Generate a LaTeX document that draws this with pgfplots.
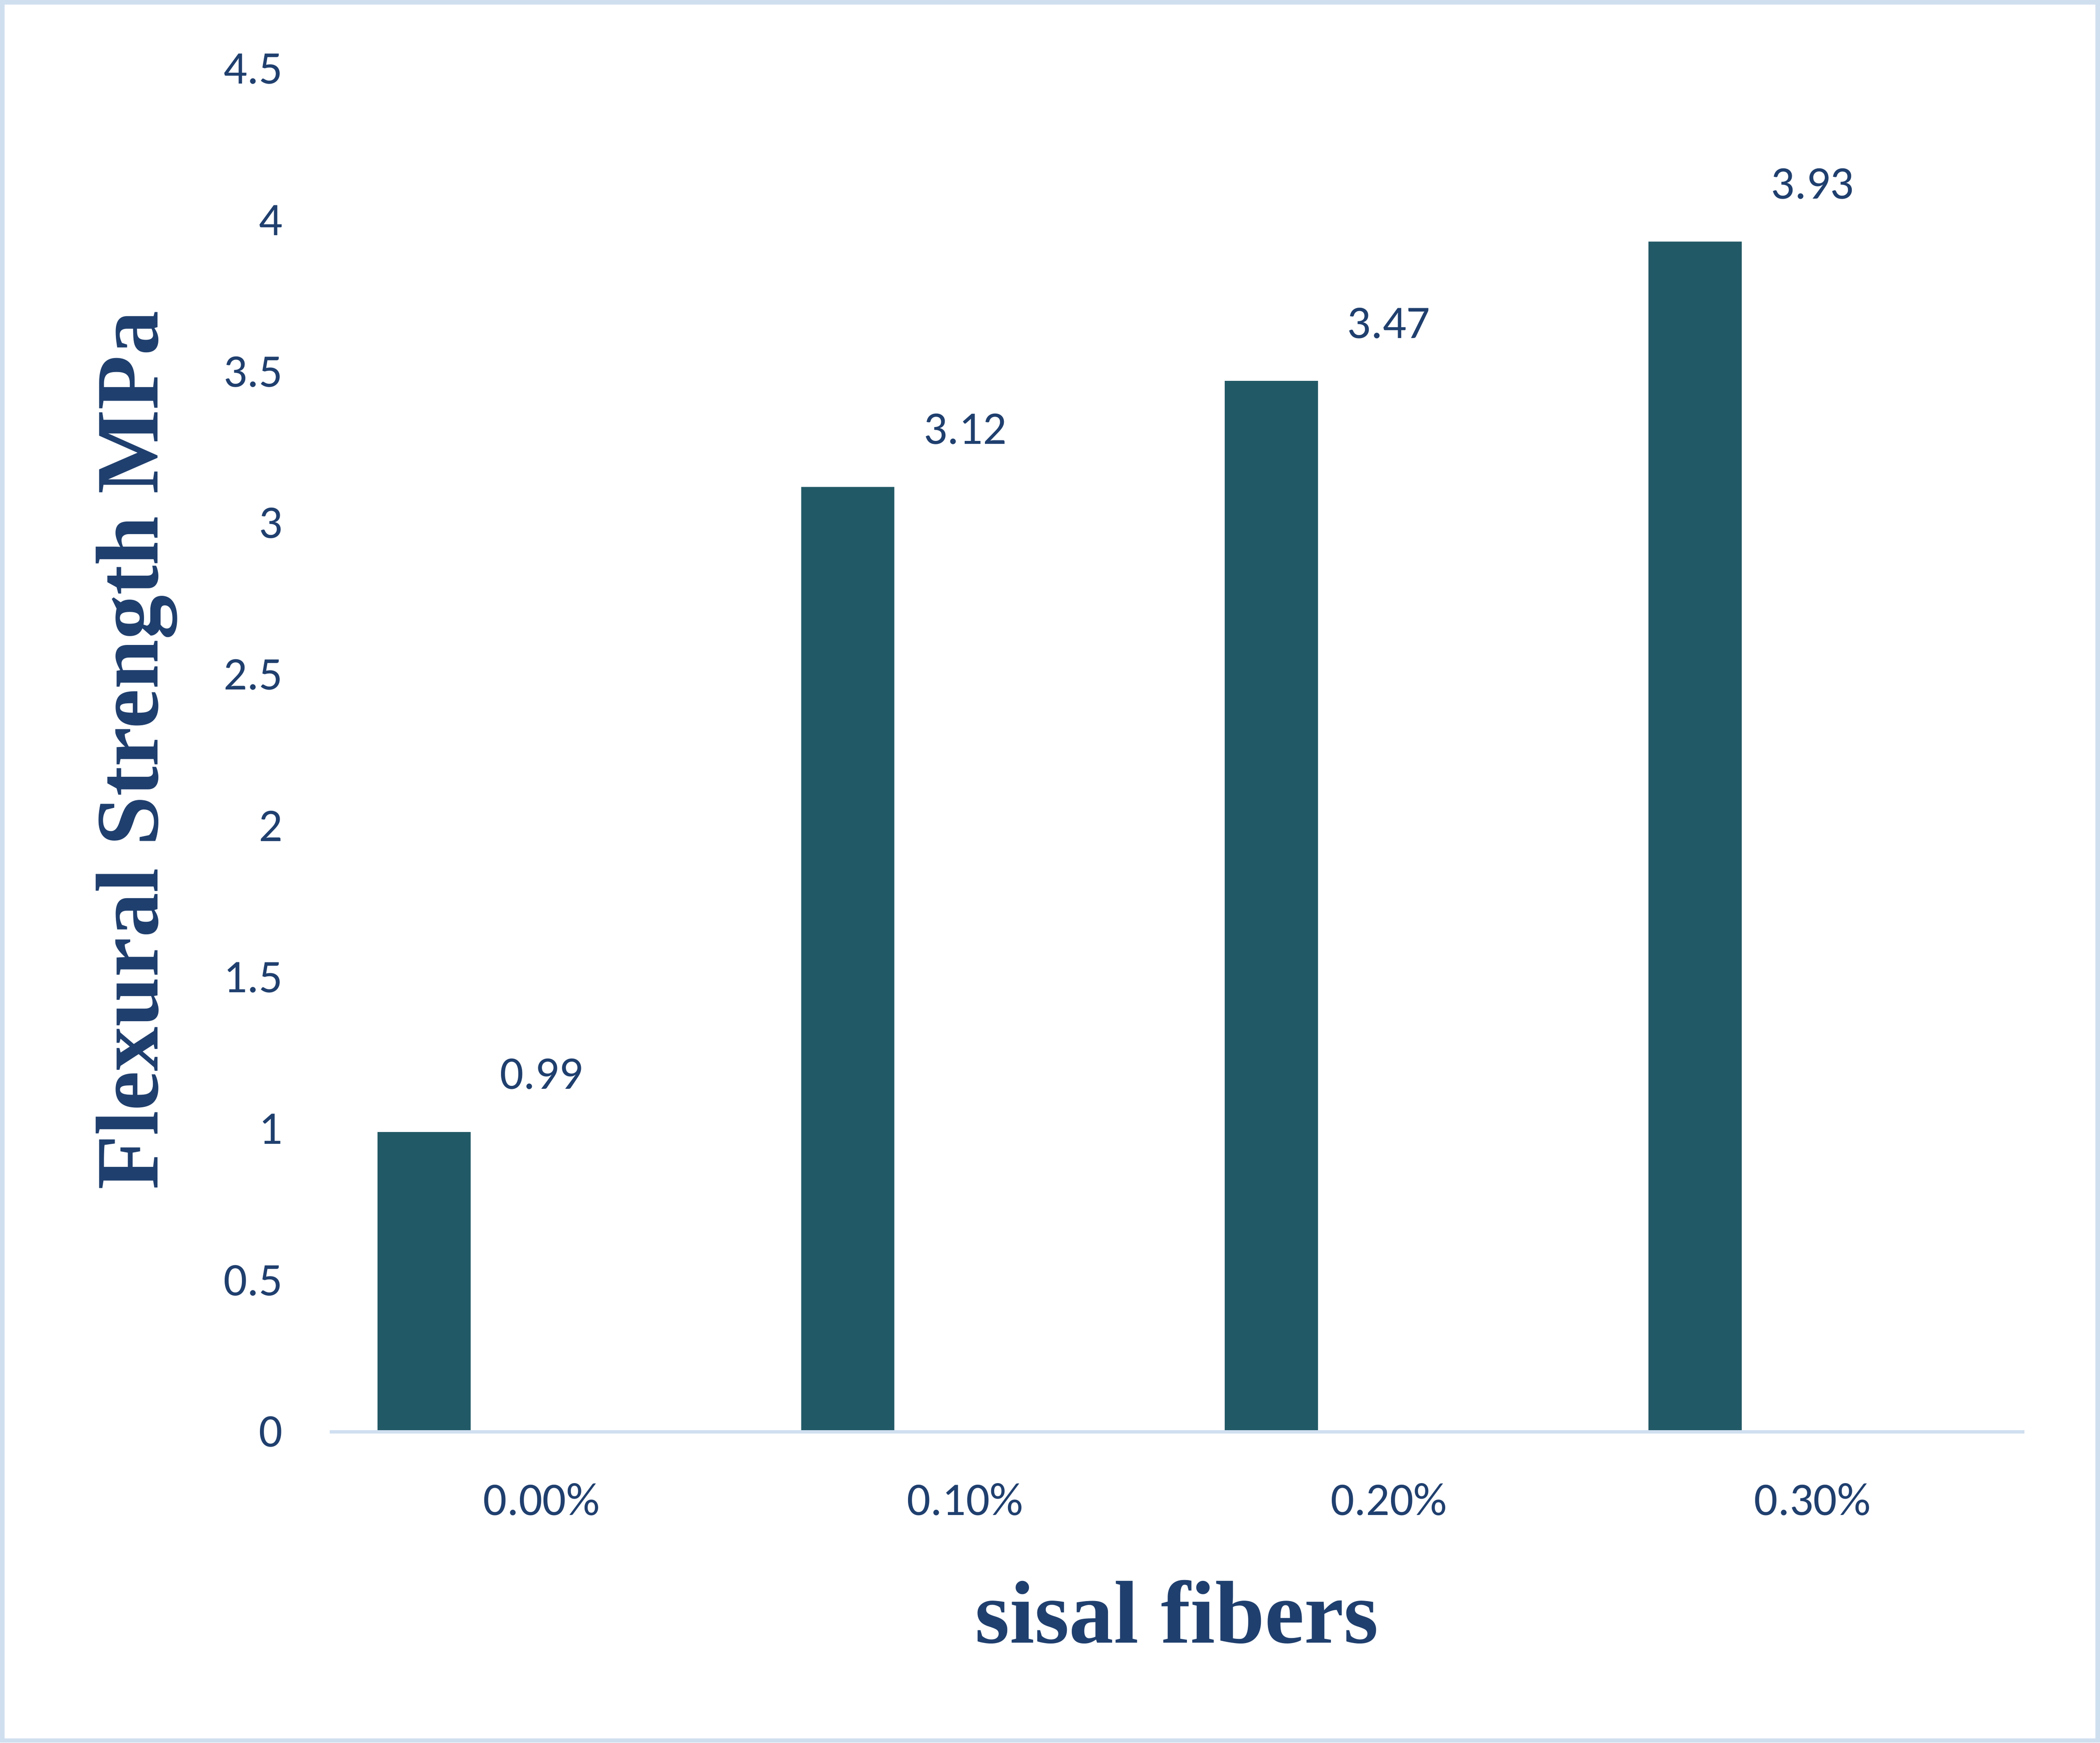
\documentclass[border=0pt]{standalone}
\usepackage{pgfplots}
\pgfplotsset{compat=1.18}
\usepackage{fontspec}
\setmainfont{Carlito}
\newfontfamily\serifb{Liberation Serif}
\definecolor{txt}{HTML}{1F3F6E}
\definecolor{bar}{HTML}{225966}
\definecolor{frame}{HTML}{D0DFF0}
\begin{document}
\begin{tikzpicture}
\begin{axis}[
  scale only axis, width=380.4pt, height=306pt,
  xmin=-0.5, xmax=3.5, ymin=0, ymax=4.5,
  axis line style={draw=none},
  major tick length=0pt,
  clip=false,
  ytick={0,0.5,...,4.5},
  yticklabels={0,0.5,1,1.5,2,2.5,3,3.5,4,4.5},
  xtick={0,1,2,3}, xticklabels={0.00\%,0.10\%,0.20\%,0.30\%},
  tick label style={font=\fontsize{10.5}{12}\selectfont, text=txt},
  yticklabel style={xshift=-7pt},
  xticklabel style={yshift=-8pt},
]
\addplot[ybar, bar width=0.22, fill=bar, draw=none, bar shift=-0.277,
  nodes near coords, point meta=explicit symbolic,
  every node near coord/.append style={font=\fontsize{10.5}{12}\selectfont, text=txt, yshift=6pt}]
  coordinates {(0,0.99)[0.99] (1,3.12)[3.12] (2,3.47)[3.47] (3,3.93)[3.93]};
\draw[frame, line width=0.8pt] (rel axis cs:0,0) -- (rel axis cs:1,0);
\node[text=txt, font=\serifb\bfseries\fontsize{20}{24}\selectfont] at (rel axis cs:0.5,-0.132) {sisal fibers};
\node[text=txt, rotate=90, font=\serifb\bfseries\fontsize{20}{24}\selectfont] at (rel axis cs:-0.114,0.5) {Flexural Strength MPa};
\draw[frame, line width=1pt] (rel axis cs:-0.1932,-0.2265) rectangle (rel axis cs:1.0434,1.049);
\end{axis}
\end{tikzpicture}
\end{document}
